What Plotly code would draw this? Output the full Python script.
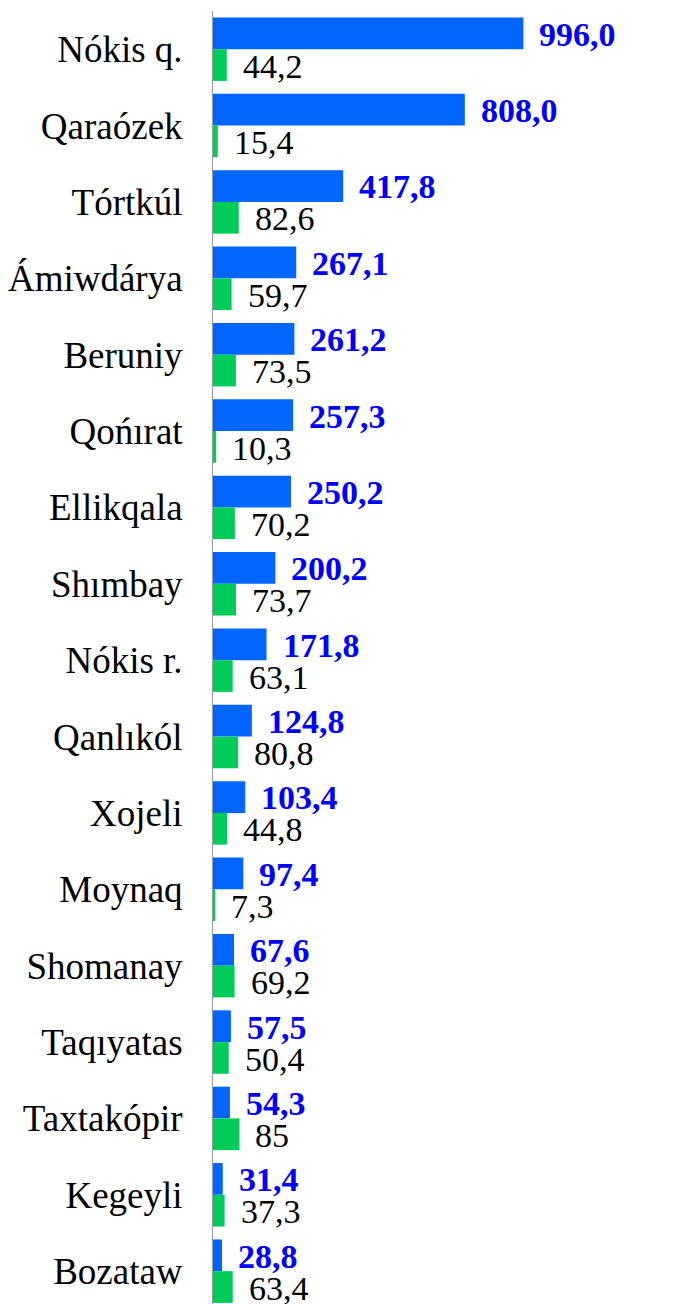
import plotly.graph_objects as go

categories = ["Nókis q.", "Qaraózek", "Tórtkúl", "Ámiwdárya", "Beruniy", "Qońırat",
              "Ellikqala", "Shımbay", "Nókis r.", "Qanlıkól", "Xojeli", "Moynaq",
              "Shomanay", "Taqıyatas", "Taxtakópir", "Kegeyli", "Bozataw"]
blue_values = [996.0, 808.0, 417.8, 267.1, 261.2, 257.3, 250.2, 200.2, 171.8, 124.8,
               103.4, 97.4, 67.6, 57.5, 54.3, 31.4, 28.8]
green_values = [44.2, 15.4, 82.6, 59.7, 73.5, 10.3, 70.2, 73.7, 63.1, 80.8,
                44.8, 7.3, 69.2, 50.4, 85, 37.3, 63.4]
blue_labels = ["996,0", "808,0", "417,8", "267,1", "261,2", "257,3", "250,2", "200,2",
               "171,8", "124,8", "103,4", "97,4", "67,6", "57,5", "54,3", "31,4", "28,8"]
green_labels = ["44,2", "15,4", "82,6", "59,7", "73,5", "10,3", "70,2", "73,7", "63,1",
                "80,8", "44,8", "7,3", "69,2", "50,4", "85", "37,3", "63,4"]

FONT = "Times New Roman, Liberation Serif, serif"
BLUE_BAR = "#0066FF"
GREEN_BAR = "#00CC5A"

fig = go.Figure()
fig.add_trace(go.Bar(y=categories, x=blue_values, orientation="h",
                     marker=dict(color=BLUE_BAR, line=dict(width=0)),
                     hoverinfo="skip"))
fig.add_trace(go.Bar(y=categories, x=green_values, orientation="h",
                     marker=dict(color=GREEN_BAR, line=dict(width=0)),
                     hoverinfo="skip"))

for cat, v, lab in zip(categories, blue_values, blue_labels):
    fig.add_annotation(x=v, y=cat, text=lab, showarrow=False, xanchor="left",
                       yanchor="middle", xshift=14, yshift=15,
                       font=dict(family=FONT, size=34, color="#0000FF", weight="bold"))
for cat, v, lab in zip(categories, green_values, green_labels):
    fig.add_annotation(x=v, y=cat, text=lab, showarrow=False, xanchor="left",
                       yanchor="middle", xshift=14, yshift=-17,
                       font=dict(family=FONT, size=34, color="#000000"))

fig.update_layout(
    width=665, height=1296,
    margin=dict(l=205, r=0, t=3, b=0),
    paper_bgcolor="white", plot_bgcolor="white",
    barmode="group", bargap=0.169, bargroupgap=0,
    showlegend=False,
    font=dict(family=FONT, size=37, color="black"),
    xaxis=dict(range=[0, 1476], visible=False, fixedrange=True, automargin=False),
    yaxis=dict(type="category", range=[16.43, -0.5], showgrid=False, zeroline=False,
               showline=True, linecolor="#999999", linewidth=1, automargin=False,
               ticks="outside", ticklen=22, tickcolor="rgba(0,0,0,0)",
               tickfont=dict(family=FONT, size=37, color="black"), fixedrange=True),
)

fig.write_html("out.html")
